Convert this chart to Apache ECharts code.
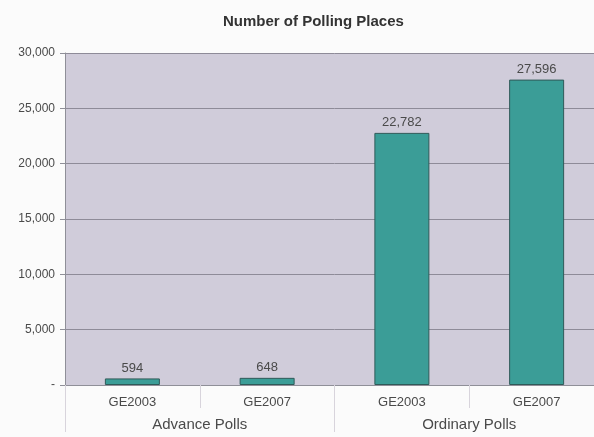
<!DOCTYPE html>
<html>
<head>
<meta charset="utf-8">
<script src="https://cdn.jsdelivr.net/npm/echarts@6/dist/echarts.min.js"></script>
<style>
  html, body { margin: 0; padding: 0; background: #fbfbfb; overflow: hidden; }
  #chart { width: 604px; height: 437px; }
</style>
</head>
<body>
<div id="chart"></div>
<script>
// Polling place counts per general election, grouped by poll type
const categories = ['GE2003', 'GE2007', 'GE2003', 'GE2007'];
const groups = ['Advance Polls', 'Ordinary Polls'];
const pollingPlaces = [594, 648, 22782, 27596];
const yTicks = [0, 5000, 10000, 15000, 20000, 25000, 30000];

const fmt = v => v.toLocaleString('en-US');
const textColor = '#4a4a4a';
const font = 'Liberation Sans, Arial, sans-serif';

// The plot runs slightly past the right edge of the visible page
const chart = echarts.init(document.getElementById('chart'));
chart.setOption({
  backgroundColor: '#fbfbfb',
  animation: false,
  title: {
    text: 'Number of Polling Places',
    left: 218,
    top: 9,
    textStyle: { fontFamily: font, fontSize: 15, fontWeight: 'bold', color: '#333333' }
  },
  grid: { left: 65, right: 0, top: 53, bottom: 52, containLabel: false,
          show: true, backgroundColor: '#d0ccda', borderWidth: 0 },
  xAxis: [
    {
      type: 'category',
      data: categories,
      position: 'bottom',
      axisLine: { show: true, lineStyle: { color: '#8f8f98', width: 1 } },
      axisTick: { show: true, interval: 0, length: 23, lineStyle: { color: '#d8d4dc' } },
      axisLabel: { interval: 0, margin: 11, fontFamily: font, fontSize: 13, color: textColor }
    },
    {
      type: 'category',
      data: groups,
      position: 'bottom',
      axisLine: { show: false },
      axisTick: { show: true, interval: 0, length: 47, lineStyle: { color: '#d8d4dc' } },
      axisLabel: { interval: 0, margin: 32, fontFamily: font, fontSize: 15, color: textColor }
    }
  ],
  yAxis: {
    type: 'value',
    min: yTicks[0],
    max: yTicks[yTicks.length - 1],
    interval: yTicks[1] - yTicks[0],
    axisLine: { show: true, lineStyle: { color: '#8f8f98' } },
    axisTick: { show: true, length: 5, lineStyle: { color: '#8f8f98' } },
    splitLine: { lineStyle: { color: '#8e8b98', width: 1 } },
    axisLabel: {
      margin: 10,
      fontFamily: font, fontSize: 12, color: textColor,
      formatter: v => (v === 0 ? '-' : fmt(v))
    }
  },
  series: [{
    type: 'bar',
    xAxisIndex: 0,
    data: pollingPlaces,
    barWidth: 55,
    itemStyle: { color: '#3b9d97', borderColor: '#2f5a58', borderWidth: 1 },
    label: {
      show: true,
      position: 'top',
      distance: 4,
      fontFamily: font, fontSize: 13, color: textColor,
      formatter: p => fmt(p.value)
    }
  }]
});
</script>
</body>
</html>
